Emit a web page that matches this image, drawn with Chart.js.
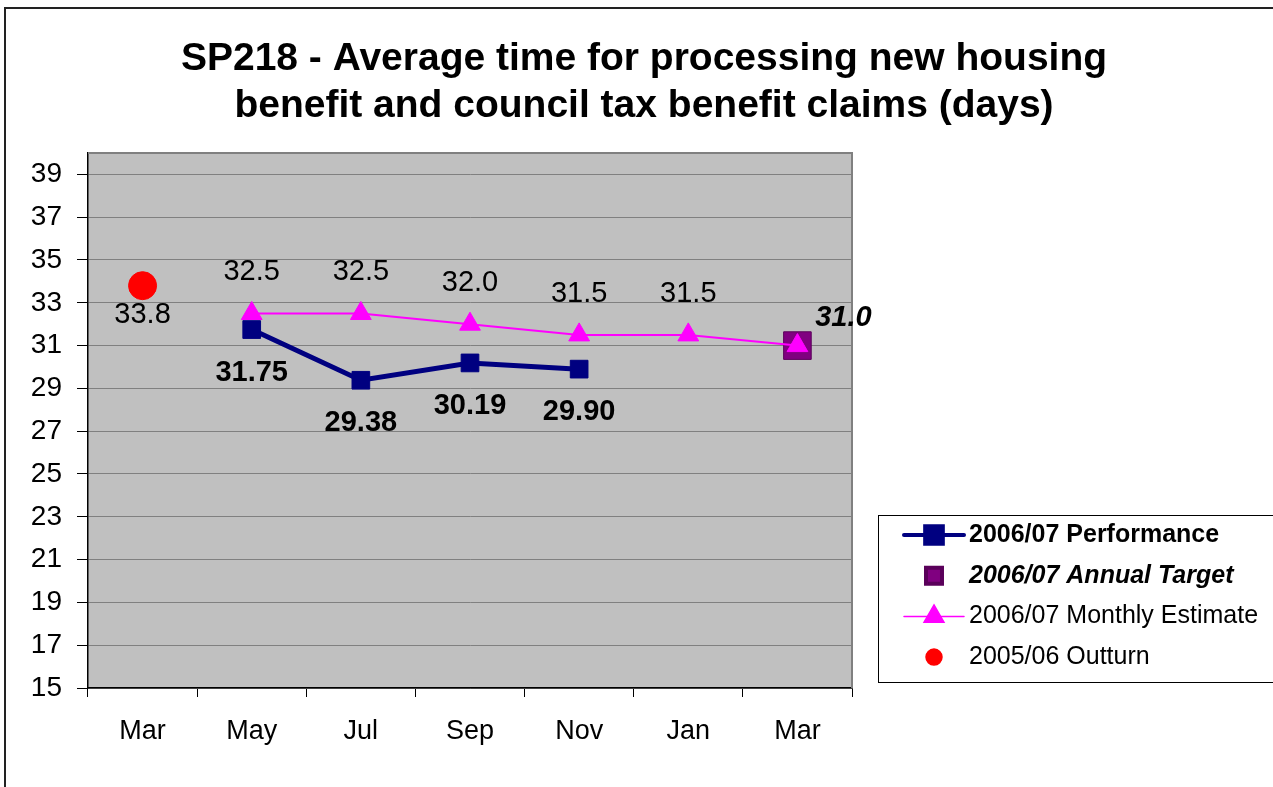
<!DOCTYPE html>
<html>
<head>
<meta charset="utf-8">
<title>SP218</title>
<script src="https://cdn.jsdelivr.net/npm/chart.js@4.4.1/dist/chart.umd.min.js"></script>
<style>
html, body { margin: 0; padding: 0; background: #fff; overflow: hidden; }
canvas { display: block; }
</style>
</head>
<body>
<canvas id="grafico" width="1273" height="787"></canvas>
<script>
// --- DADOS ---
const MESES = ['Mar', 'May', 'Jul', 'Sep', 'Nov', 'Jan', 'Mar'];
const PERFORMANCE = [null, 31.75, 29.38, 30.19, 29.90, null, null];
const ANNUAL_TARGET = [null, null, null, null, null, null, 31.0];
const MONTHLY_ESTIMATE = [null, 32.5, 32.5, 32.0, 31.5, 31.5, 31.0];
const OUTTURN = [33.8, null, null, null, null, null, null];
const Y_TICKS = [15, 17, 19, 21, 23, 25, 27, 29, 31, 33, 35, 37, 39];
const TITULO = ['SP218 - Average time for processing new housing', 'benefit and council tax benefit claims (days)'];

const FONTE = "'Liberation Sans', Arial, sans-serif";
Chart.defaults.font.family = FONTE;
Chart.defaults.color = '#000';

// --- PLUGINS ---
// moldura externa + fundo cinza da area do grafico
const fundoPlugin = {
    id: 'fundo',
    beforeDraw(chart) {
        const { ctx, chartArea: a } = chart;
        ctx.save();
        ctx.strokeStyle = '#222';
        ctx.lineWidth = 2;
        ctx.strokeRect(5, 8, 2000, 2000);
        ctx.fillStyle = '#C0C0C0';
        ctx.fillRect(a.left, a.top, a.right - a.left, a.bottom - a.top);
        ctx.restore();
    },
    beforeDatasetsDraw(chart) {
        const { ctx, chartArea: a } = chart;
        ctx.save();
        ctx.strokeStyle = '#808080';
        ctx.lineWidth = 2;
        ctx.beginPath();
        ctx.moveTo(a.left, a.top);
        ctx.lineTo(a.right, a.top);
        ctx.lineTo(a.right, a.bottom);
        ctx.stroke();
        ctx.restore();
    }
};

// rotulos de valores ao lado dos pontos
const rotulosPlugin = {
    id: 'rotulos',
    afterDatasetsDraw(chart) {
        const ctx = chart.ctx;
        chart.data.datasets.forEach((ds, i) => {
            const r = ds.rotulo;
            if (!r) return;
            const meta = chart.getDatasetMeta(i);
            ctx.save();
            ctx.font = r.font;
            ctx.fillStyle = '#000';
            ctx.textAlign = 'center';
            ctx.textBaseline = 'middle';
            meta.data.forEach((pt, j) => {
                const v = ds.data[j];
                if (v === null || (r.ocultar || []).includes(j)) return;
                ctx.fillText(v.toFixed(r.casas), pt.x + r.dx, pt.y + r.dy);
            });
            ctx.restore();
        });
    }
};

// legenda desenhada a mao (fontes diferentes por item)
const legendaPlugin = {
    id: 'legenda',
    afterDraw(chart) {
        const { ctx, chartArea: a } = chart;
        const left = a.right + 26, top = 515;
        ctx.save();
        ctx.strokeStyle = '#000';
        ctx.lineWidth = 1;
        ctx.strokeRect(left + 0.5, top + 0.5, 600, 167);
        chart.data.datasets.forEach((ds, i) => {
            const y = top + 20 + i * 40.7;
            const cx = left + 56;
            if (ds.legendaLinha) {
                ctx.strokeStyle = ds.borderColor;
                ctx.lineWidth = ds.legendaLinha;
                ctx.lineCap = 'round';
                ctx.beginPath();
                ctx.moveTo(left + 26, y);
                ctx.lineTo(left + 86, y);
                ctx.stroke();
            }
            ctx.fillStyle = ds.pointBackgroundColor;
            ctx.strokeStyle = ds.pointBorderColor;
            Chart.helpers.drawPoint(ctx, {
                pointStyle: ds.pointStyle,
                radius: ds.legendaRaio,
                rotation: 0,
                borderWidth: 1
            }, cx, y);
            ctx.fillStyle = '#000';
            ctx.font = ds.legendaFonte;
            ctx.textAlign = 'left';
            ctx.textBaseline = 'middle';
            ctx.fillText(ds.label, left + 91, y);
        });
        ctx.restore();
    }
};

// --- GRAFICO ---
new Chart(document.getElementById('grafico'), {
    type: 'line',
    data: {
        labels: MESES,
        datasets: [
            {
                label: '2006/07 Performance',
                data: PERFORMANCE,
                borderColor: '#000080',
                borderWidth: 5,
                pointStyle: 'rect',
                pointRadius: 12.5,
                pointBackgroundColor: '#000080',
                pointBorderColor: '#000080',
                pointBorderWidth: 1,
                order: 0,
                rotulo: { font: `bold 29px ${FONTE}`, casas: 2, dx: 0, dy: 43 },
                legendaLinha: 4, legendaRaio: 12.5, legendaFonte: `bold 25px ${FONTE}`
            },
            {
                label: '2006/07 Annual Target',
                data: ANNUAL_TARGET,
                showLine: false,
                borderColor: '#800080',
                pointStyle: 'rect',
                pointRadius: 19.5,
                pointBackgroundColor: '#800080',
                pointBorderColor: '#5a005a',
                pointBorderWidth: 1,
                order: 2,
                rotulo: { font: `italic bold 29px ${FONTE}`, casas: 1, dx: 46, dy: -28 },
                legendaLinha: 0, legendaRaio: 11.3, legendaFonte: `italic bold 25px ${FONTE}`
            },
            {
                label: '2006/07 Monthly Estimate',
                data: MONTHLY_ESTIMATE,
                borderColor: '#FF00FF',
                borderWidth: 2,
                pointStyle: 'triangle',
                pointRadius: 12,
                pointBackgroundColor: '#FF00FF',
                pointBorderColor: '#FF00FF',
                pointBorderWidth: 1,
                order: 1,
                rotulo: { font: `29px ${FONTE}`, casas: 1, dx: 0, dy: -41, ocultar: [6] },
                legendaLinha: 1.5, legendaRaio: 11.5, legendaFonte: `25px ${FONTE}`
            },
            {
                label: '2005/06 Outturn',
                data: OUTTURN,
                showLine: false,
                borderColor: '#FF0000',
                pointStyle: 'circle',
                pointRadius: 14,
                pointBackgroundColor: '#FF0000',
                pointBorderColor: '#FF0000',
                pointBorderWidth: 1,
                order: 3,
                rotulo: { font: `29px ${FONTE}`, casas: 1, dx: 0, dy: 29 },
                legendaLinha: 0, legendaRaio: 8, legendaFonte: `25px ${FONTE}`
            }
        ]
    },
    options: {
        responsive: false,
        animation: false,
        devicePixelRatio: 1,
        layout: { padding: { left: 15, right: 0, top: 0, bottom: 0 } },
        plugins: {
            legend: { display: false },
            tooltip: { enabled: false },
            title: {
                display: true,
                text: TITULO,
                color: '#000',
                font: { size: 39, weight: 'bold', lineHeight: 1.205 },
                padding: { top: 36, bottom: 23 }
            }
        },
        scales: {
            x: {
                offset: true,
                grid: { drawOnChartArea: false, drawTicks: true, tickLength: 9, tickColor: '#000', offset: true },
                border: { color: '#000', width: 1.5 },
                ticks: { color: '#000', font: { size: 27 }, padding: 18, maxRotation: 0, autoSkip: false },
                afterFit(s) { s.height = 99; }
            },
            y: {
                min: 15,
                max: 40,
                afterBuildTicks(s) { s.ticks = Y_TICKS.map(v => ({ value: v })); },
                grid: { color: '#808080', lineWidth: 1, tickLength: 11, tickColor: '#000' },
                border: { color: '#000', width: 1.5 },
                ticks: { color: '#000', font: { size: 28 }, padding: 15 },
                afterFit(s) { s.width = 73; }
            },
            yLegenda: {
                position: 'right',
                grid: { display: false },
                border: { display: false },
                ticks: { display: false },
                afterFit(s) { s.width = 421; }
            }
        }
    },
    plugins: [fundoPlugin, rotulosPlugin, legendaPlugin]
});
</script>
</body>
</html>
